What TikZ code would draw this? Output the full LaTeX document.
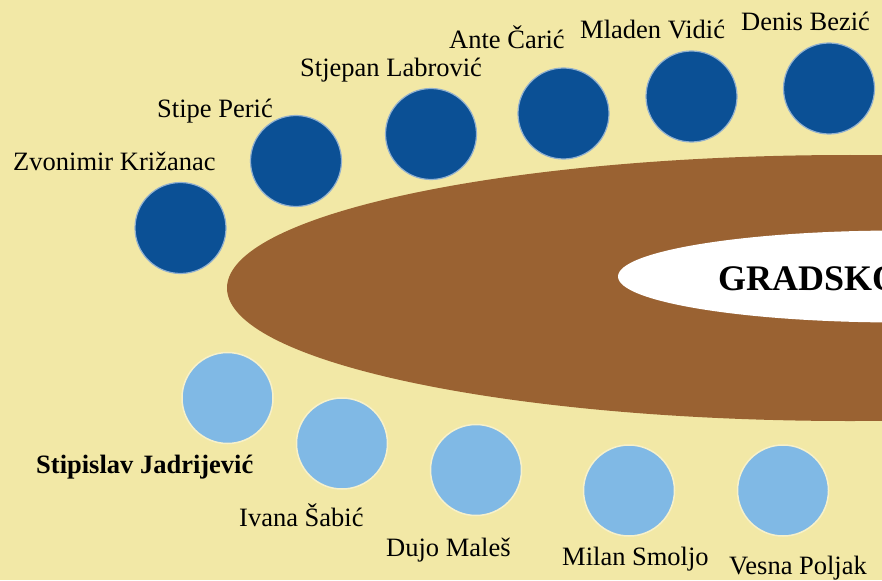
\documentclass[tikz,border=0pt]{standalone}
\usepackage{fontspec}
\setmainfont{Liberation Serif}
\definecolor{bgcol}{HTML}{F2E8A6}
\definecolor{browncol}{HTML}{9A6232}
\definecolor{darkblue}{HTML}{0B5095}
\definecolor{lightblue}{HTML}{80B9E5}
\tikzset{
  seatdark/.style={circle, fill=darkblue, draw=white!55!darkblue, line width=1.2pt, minimum size=91pt, inner sep=0pt},
  seatlight/.style={circle, fill=lightblue, draw=white!40!bgcol, line width=1.5pt, minimum size=91pt, inner sep=0pt},
  namelbl/.style={anchor=base west, inner sep=0pt, font=\fontsize{26.5}{30}\selectfont, text=black},
}
\begin{document}
\begin{tikzpicture}[x=1pt,y=-1pt]
\useasboundingbox (0,0) rectangle (882,580);
\fill[bgcol] (0,0) rectangle (882,580);
% table
\fill[browncol] (850,288) ellipse [x radius=623, y radius=133];
\fill[white] (900,276.5) ellipse [x radius=282, y radius=46];
\node[anchor=base west, inner sep=0pt, font=\fontsize{36}{40}\selectfont\bfseries] (title) at (718,290) {GRADSKO};
% upper seats
\node[seatdark] (s1) at (180.5,228) {};
\node[seatdark] (s2) at (296,161) {};
\node[seatdark] (s3) at (431,134) {};
\node[seatdark] (s4) at (563.5,113.5) {};
\node[seatdark] (s5) at (691.5,96.5) {};
\node[seatdark] (s6) at (829,88.5) {};
% lower seats
\node[seatlight] (t1) at (227.5,398) {};
\node[seatlight] (t2) at (342,443.5) {};
\node[seatlight] (t3) at (476,470) {};
\node[seatlight] (t4) at (629,490.5) {};
\node[seatlight] (t5) at (783,490.5) {};
% labels
\node[namelbl] (l1) at (13,171) {Zvonimir Križanac};
\node[namelbl] (l2) at (157,118) {Stipe Perić};
\node[namelbl] (l3) at (300,77) {Stjepan Labrović};
\node[namelbl] (l4) at (449,49) {Ante Čarić};
\node[namelbl] (l5) at (580,39) {Mladen Vidić};
\node[namelbl] (l6) at (741,31) {Denis Bezić};
\node[namelbl, font=\fontsize{26.5}{30}\selectfont\bfseries] (m1) at (36,473) {Stipislav Jadrijević};
\node[namelbl] (m2) at (239,526) {Ivana Šabić};
\node[namelbl] (m3) at (386,556) {Dujo Maleš};
\node[namelbl] (m4) at (562,565) {Milan Smoljo};
\node[namelbl] (m5) at (729,574) {Vesna Poljak};
\end{tikzpicture}
\end{document}
